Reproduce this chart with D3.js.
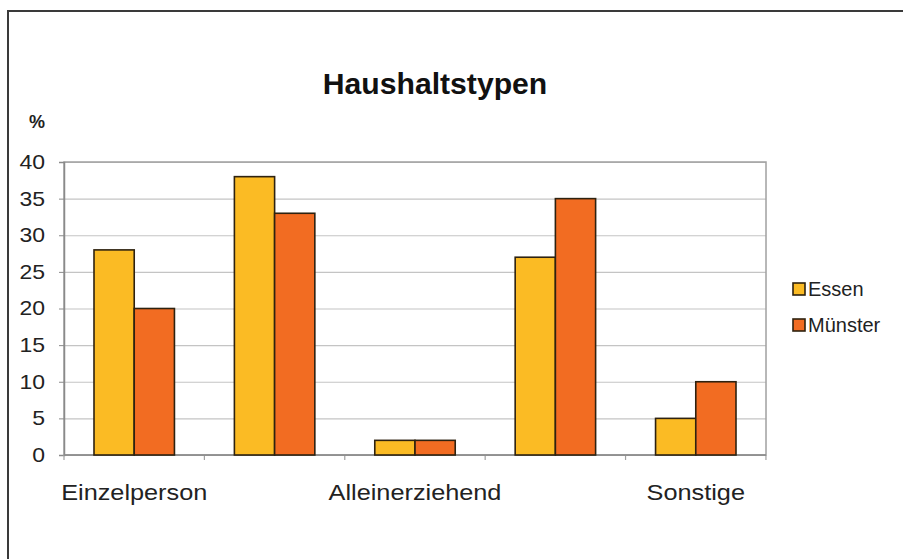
<!DOCTYPE html>
<html>
<head>
<meta charset="utf-8">
<script src="https://cdn.jsdelivr.net/npm/d3@7"></script>
<style>
  html, body { margin: 0; padding: 0; background: #fff; }
  svg { display: block; font-family: "Liberation Sans", Arial, sans-serif; }
</style>
</head>
<body>
<svg id="chart" width="903" height="559"></svg>
<script>
const categories = ["Einzelperson", "Paare ohne Kinder", "Alleinerziehend", "Paare mit Kindern", "Sonstige"];
const seriesNames = ["Essen", "Münster"];
const essen = [28, 38, 2, 27, 5];
const muenster = [20, 33, 2, 35, 10];
const yTicks = [0, 5, 10, 15, 20, 25, 30, 35, 40];
const colors = ["#fbbb24", "#f26c22"];

const svg = d3.select("#chart");
const width = 903, height = 559;
const m = { top: 162, right: 137, bottom: 104, left: 64 };
const stretch = 1.15; // the reference text is a bit wide

// outer chart frame (runs off the right and bottom edge)
svg.append("rect")
  .attr("x", 8).attr("y", 11)
  .attr("width", 1000).attr("height", 1000)
  .attr("fill", "#fff")
  .attr("stroke", "#3a3a3a")
  .attr("stroke-width", 2);

const x0 = d3.scaleBand()
  .domain(categories)
  .range([m.left, width - m.right])
  .paddingInner(0.427)
  .paddingOuter(0.2137);

const x1 = d3.scaleBand()
  .domain(seriesNames)
  .range([0, x0.bandwidth()]);

const y = d3.scaleLinear()
  .domain([0, 40])
  .range([height - m.bottom, m.top]);

// gridlines
svg.append("g")
  .attr("transform", `translate(${m.left},0)`)
  .call(d3.axisLeft(y).tickValues(yTicks).tickSize(-(width - m.left - m.right)).tickFormat(""))
  .call(g => g.select(".domain").remove())
  .selectAll("line")
  .attr("stroke", "#c4c4c4")
  .attr("stroke-width", 1.2);

// plot frame
svg.append("rect")
  .attr("x", m.left).attr("y", m.top)
  .attr("width", width - m.left - m.right)
  .attr("height", height - m.top - m.bottom)
  .attr("fill", "none")
  .attr("stroke", "#a0a0a0")
  .attr("stroke-width", 1.5);

// y axis
const yAxis = svg.append("g")
  .attr("transform", `translate(${m.left},0)`)
  .call(d3.axisLeft(y).tickValues(yTicks).tickSize(5));
yAxis.select(".domain").attr("stroke", "#8a8a8a").attr("stroke-width", 1.5);
yAxis.selectAll("line").attr("stroke", "#8a8a8a");
yAxis.selectAll("text")
  .attr("x", null)
  .attr("transform", `translate(-19,0) scale(${stretch},1)`)
  .attr("fill", "#222")
  .attr("font-size", "20px");

// x axis with ticks between categories
const bounds = d3.range(categories.length + 1);
const step = x0.step();
svg.append("g")
  .selectAll("line")
  .data(bounds)
  .join("line")
  .attr("x1", i => m.left + i * step)
  .attr("x2", i => m.left + i * step)
  .attr("y1", y(0))
  .attr("y2", y(0) + 5)
  .attr("stroke", "#a0a0a0")
  .attr("stroke-width", 1.2);

svg.append("line")
  .attr("x1", m.left).attr("x2", width - m.right)
  .attr("y1", y(0)).attr("y2", y(0))
  .attr("stroke", "#8a8a8a")
  .attr("stroke-width", 1.5);

svg.append("g")
  .selectAll("text")
  .data(categories)
  .join("text")
  .attr("transform", d => `translate(${x0(d) + x0.bandwidth() / 2},${y(0) + 45}) scale(${stretch},1)`)
  .attr("text-anchor", "middle")
  .attr("font-size", "22px")
  .attr("fill", "#222")
  .text((d, i) => i % 2 === 0 ? d : "");

// bars
const rows = categories.map((c, i) => ({ cat: c, values: [essen[i], muenster[i]] }));
svg.append("g")
  .selectAll("g")
  .data(rows)
  .join("g")
  .attr("transform", d => `translate(${x0(d.cat)},0)`)
  .selectAll("rect")
  .data(d => d.values.map((v, j) => ({ name: seriesNames[j], value: v, j })))
  .join("rect")
  .attr("x", d => x1(d.name))
  .attr("y", d => y(d.value))
  .attr("width", x1.bandwidth())
  .attr("height", d => y(0) - y(d.value))
  .attr("fill", d => colors[d.j])
  .attr("stroke", "#2e2210")
  .attr("stroke-width", 1.6);

// title
svg.append("text")
  .attr("transform", "translate(435,94) scale(1.04,1)")
  .attr("text-anchor", "middle")
  .attr("font-size", "29px")
  .attr("font-weight", "bold")
  .attr("fill", "#111")
  .text("Haushaltstypen");

svg.append("text")
  .attr("x", 29)
  .attr("y", 128)
  .attr("font-size", "18px")
  .attr("font-weight", "bold")
  .attr("fill", "#222")
  .text("%");

// legend
const legend = svg.append("g")
  .selectAll("g")
  .data(seriesNames)
  .join("g")
  .attr("transform", (d, i) => `translate(793,${283 + i * 36})`);
legend.append("rect")
  .attr("width", 12).attr("height", 12)
  .attr("fill", (d, i) => colors[i])
  .attr("stroke", "#2e2210")
  .attr("stroke-width", 1.6);
legend.append("text")
  .attr("x", 15)
  .attr("y", 13)
  .attr("font-size", "20px")
  .attr("fill", "#222")
  .text(d => d);
</script>
</body>
</html>
